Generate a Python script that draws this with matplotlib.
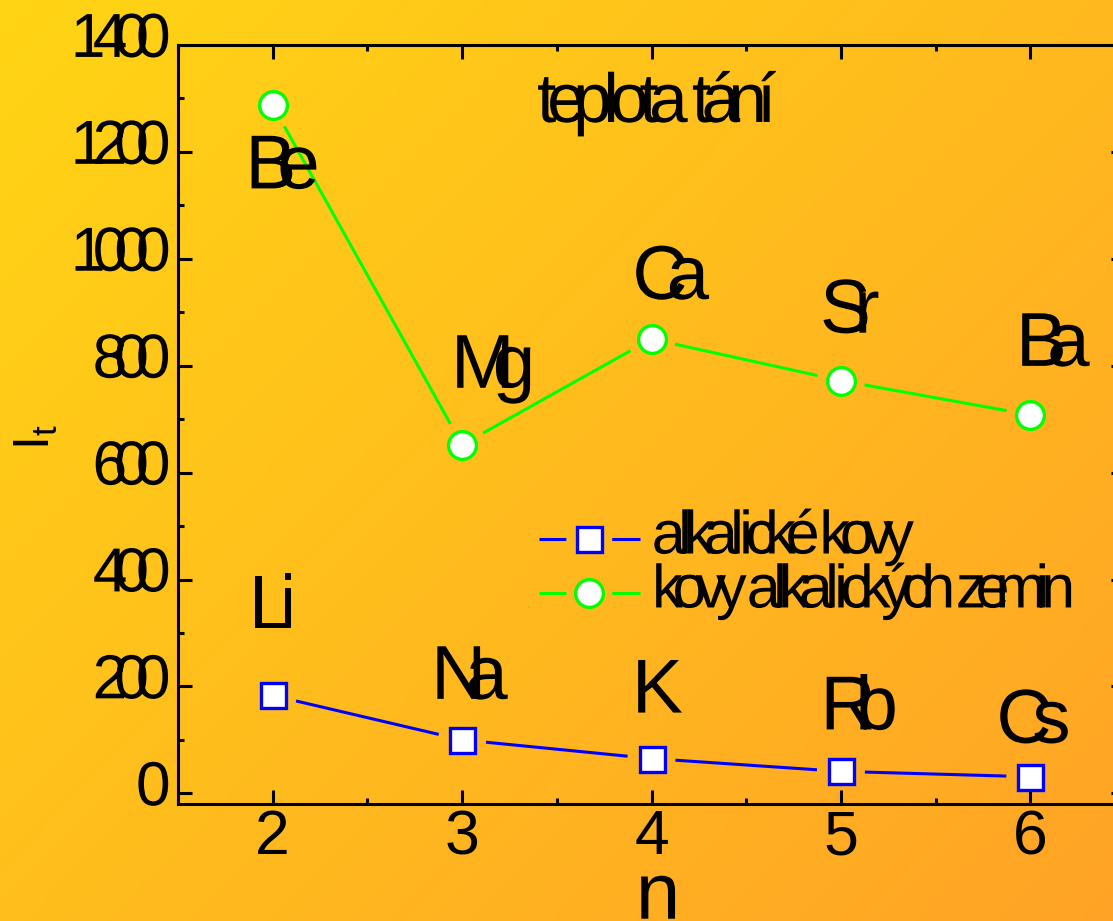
import matplotlib
matplotlib.use('Agg')
import matplotlib.pyplot as plt
import numpy as np
from matplotlib.lines import Line2D
from matplotlib.path import Path
from matplotlib.patheffects import AbstractPathEffect
from matplotlib.ticker import MultipleLocator

# --- data ---
n_vals = [2, 3, 4, 5, 6]
alkali_names = ['Li', 'Na', 'K', 'Rb', 'Cs']
alkali_tt = [183, 100, 65, 41, 31]
earth_names = ['Be', 'Mg', 'Ca', 'Sr', 'Ba']
earth_tt = [1287, 652, 850, 772, 708]

title_text = 'teplota tání'
legend_labels = ['alkalické kovy', 'kovy alkalických zemin']

# label offsets from the point, in pixels (dx, dy of baseline; +dy = up)
alkali_offsets = [(3, 67), (9, 41), (7, 46), (20, 42), (5, 34)]
earth_offsets = [(11, -83), (33, 57), (21, 40), (12, 48), (24, 49)]

plt.rcParams['font.family'] = ['Liberation Sans', 'DejaVu Sans']
plt.rcParams['mathtext.fontset'] = 'custom'
plt.rcParams['mathtext.rm'] = 'Liberation Sans'


class BigGlyphs(AbstractPathEffect):
    """Draw each glyph s times bigger around its own spot: the text keeps its
    layout, so the letters crowd together like in the original picture."""

    def __init__(self, s, offset=(0, 0)):
        super().__init__(offset)
        self.s = s

    def draw_path(self, renderer, gc, tpath, affine, rgbFace=None):
        v = tpath.vertices.copy()
        c = tpath.codes
        if c is not None and len(v):
            real = c != Path.CLOSEPOLY
            starts = np.flatnonzero(c == Path.MOVETO)
            ends = list(starts[1:]) + [len(c)]
            spans = []
            for s, e in zip(starts, ends):
                m = real[s:e]
                xs = v[s:e, 0][m] if m.any() else v[s:e, 0]
                spans.append((xs.min(), xs.max()))
            for (s, e), (lo, hi) in zip(zip(starts, ends), spans):
                cx = (lo + hi) / 2
                # counters / dots follow the widest contour around them
                best = (lo, hi)
                for lo2, hi2 in spans:
                    if lo2 <= cx <= hi2 and hi2 - lo2 > best[1] - best[0]:
                        best = (lo2, hi2)
                gx = (best[0] + best[1]) / 2
                v[s:e, 0] = gx + (v[s:e, 0] - gx) * self.s
                v[s:e, 1] = v[s:e, 1] * self.s
            tpath = Path(v, c)
        renderer.draw_path(gc, tpath, affine + self._offset_transform(renderer), rgbFace)


W, H = 1113, 921
fig = plt.figure(figsize=(W / 100, H / 100), dpi=100)

# diagonal yellow -> orange background
bg = fig.add_axes([0, 0, 1, 1], zorder=-5)
yy, xx = np.mgrid[0:H:4, 0:W:4]
t = (xx / W * 0.55 + yy / H * 0.45)
c0 = np.array([1.0, 0.835, 0.08])
c1 = np.array([1.0, 0.64, 0.15])
img = c0[None, None, :] * (1 - t[..., None]) + c1[None, None, :] * t[..., None]
bg.imshow(img, extent=[0, 1, 0, 1], aspect='auto', origin='upper', interpolation='bilinear')
bg.axis('off')

ax = fig.add_axes([178 / W, 1 - 804 / H, (1125 - 178) / W, (804 - 45) / H])
ax.patch.set_alpha(0)
ax.set_xlim(1.5, 6.5)
ax.set_ylim(-20, 1400)

for sp in ax.spines.values():
    sp.set_linewidth(2.2)
ax.xaxis.set_major_locator(MultipleLocator(1))
ax.xaxis.set_minor_locator(MultipleLocator(0.5))
ax.yaxis.set_major_locator(MultipleLocator(200))
ax.yaxis.set_minor_locator(MultipleLocator(100))
ax.tick_params(which='both', direction='in', top=True, right=True, width=2.2)
ax.tick_params(which='major', length=10)
ax.tick_params(which='minor', length=4.5)
ax.tick_params(axis='x', labelsize=45, pad=3)
ax.tick_params(axis='y', labelsize=28, pad=10)
for lbl in ax.get_yticklabels():
    lbl.set_path_effects([BigGlyphs(1.6, offset=(0, 1.5))])


def gapped_line(xs, ys, color, gap=24):
    # line pieces that stop short of the markers
    pts = ax.transData.transform(np.column_stack([xs, ys]))
    inv = ax.transData.inverted()
    for p0, p1 in zip(pts[:-1], pts[1:]):
        d = p1 - p0
        u = d / np.hypot(*d)
        seg = inv.transform([p0 + u * gap, p1 - u * gap])
        ax.plot(seg[:, 0], seg[:, 1], color=color, lw=2.2, solid_capstyle='butt')


gapped_line(n_vals, alkali_tt, '#0000ff')
gapped_line(n_vals, earth_tt, '#00ff00')
ax.plot(n_vals, alkali_tt, ls='none', marker='s', ms=18, mfc='white',
        mec='#0000ff', mew=2.4, zorder=5)
ax.plot(n_vals, earth_tt, ls='none', marker='o', ms=20, mfc='white',
        mec='#00ff00', mew=2.4, zorder=5)

for x, y, s, (dx, dy) in zip(n_vals, alkali_tt, alkali_names, alkali_offsets):
    ax.annotate(s, (x, y), xytext=(dx * 0.72, dy * 0.72), textcoords='offset points',
                ha='center', va='baseline', fontsize=32,
                path_effects=[BigGlyphs(1.72)])
for x, y, s, (dx, dy) in zip(n_vals, earth_tt, earth_names, earth_offsets):
    ax.annotate(s, (x, y), xytext=(dx * 0.72, dy * 0.72), textcoords='offset points',
                ha='center', va='baseline', fontsize=32,
                path_effects=[BigGlyphs(1.72)])

fig.text(657 / W, 1 - 122 / H, title_text, ha='center', va='baseline', fontsize=34,
         path_effects=[BigGlyphs(1.47)])

ax.set_xlabel('n', fontsize=42, path_effects=[BigGlyphs(1.37, offset=(0, -7))])
ax.xaxis.label.set_va('baseline')
ax.xaxis.set_label_coords((658 - 178) / 947, -(909 - 804) / 759)
ax.set_ylabel(r'$\mathregular{I_t}$', fontsize=36)
ax.yaxis.label.set_va('baseline')
ax.yaxis.set_label_coords((50 - 178) / 947, (804 - 437) / 759)

# legend: dashed proxy lines leave a gap around the marker
dash = (0, (8.8, 15, 9.5, 30))
h1 = Line2D([], [], color='#0000ff', lw=2.2, ls=dash,
            marker='s', ms=18, mfc='white', mec='#0000ff', mew=2.4)
h2 = Line2D([], [], color='#00ff00', lw=2.2, ls=dash,
            marker='o', ms=20, mfc='white', mec='#00ff00', mew=2.4)
leg = fig.legend([h1, h2], legend_labels, loc='upper left',
                 bbox_to_anchor=(539 / W, 1 - 523 / H), frameon=False, fontsize=29.3,
                 handlelength=2.48, handletextpad=0.44, labelspacing=0.38,
                 borderpad=0, borderaxespad=0)
for txt in leg.get_texts():
    txt.set_path_effects([BigGlyphs(1.5)])

fig.savefig('out.png', dpi=100)
